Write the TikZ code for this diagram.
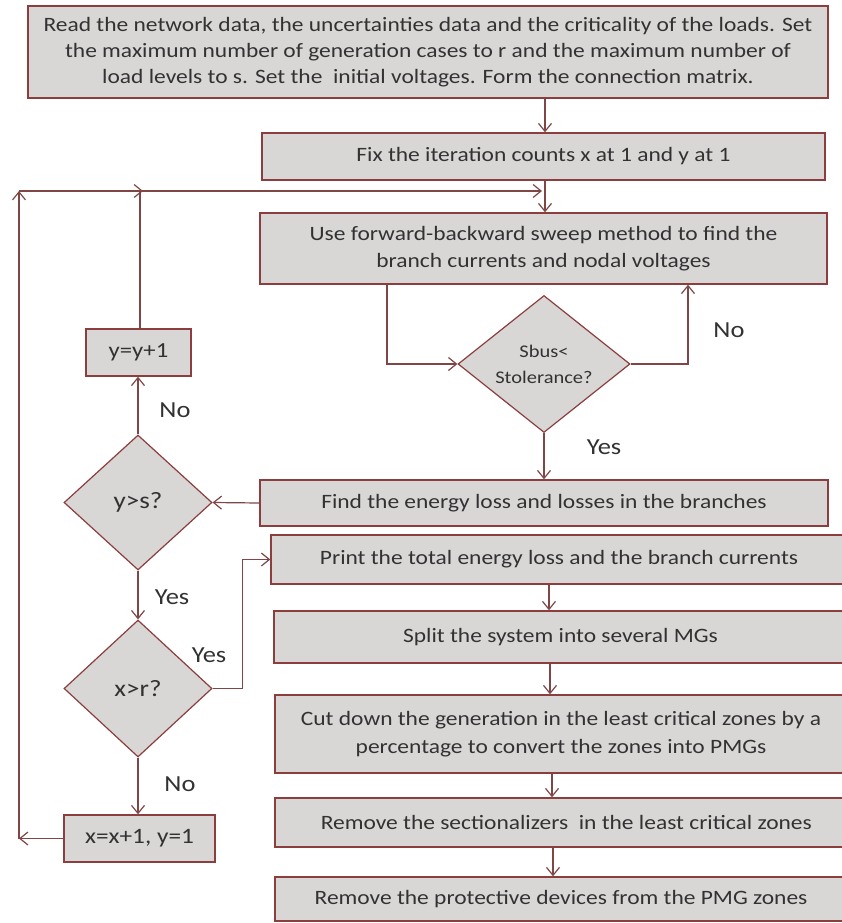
\documentclass[tikz,border=0pt]{standalone}
\usepackage{fontspec}
\setmainfont{Carlito}[FakeStretch=1.15]
\usetikzlibrary{shapes.geometric,arrows.meta}
\definecolor{bordc}{RGB}{140,62,62}
\definecolor{linec}{RGB}{128,70,70}
\definecolor{fillc}{RGB}{217,214,214}
\definecolor{textc}{RGB}{50,50,50}
\tikzset{
  boxstyle/.style={draw=bordc, fill=fillc, line width=1.4pt, inner sep=0pt, align=center, text=textc, font=\fontsize{20.4}{26}\selectfont},
  decstyle/.style={diamond, draw=bordc, fill=fillc, line width=1.2pt, inner sep=0pt, aspect=1.1, align=center, text=textc, font=\fontsize{17.8}{26}\selectfont},
  conn/.style={draw=linec, line width=1.2pt},
  arr/.style={conn, -{Straight Barb[length=8pt,width=13pt,line width=1.2pt]}},
  lab/.style={text=textc, font=\fontsize{23}{26}\selectfont, inner sep=0pt}
}
\begin{document}
\begin{tikzpicture}[x=1pt,y=-1pt]
\useasboundingbox (0,0) rectangle (842,923);
\fill[white] (0,0) rectangle (842,923);
% boxes
\node[boxstyle, minimum width=800pt, minimum height=92pt, font=\fontsize{20.4}{26}\selectfont] (b1) at (428,52) {Read the network data, the uncertainties data and the criticality of the loads. Set\\ the maximum number of generation cases to r and the maximum number of\\ load levels to s. Set the\ \ initial voltages. Form the connection matrix.};
\node[boxstyle, minimum width=563pt, minimum height=47pt] (b2) at (543.5,156.5) {Fix the iteration counts x at 1 and y at 1};
\node[boxstyle, minimum width=567pt, minimum height=71pt, font=\fontsize{20.4}{27}\selectfont] (b3) at (543.5,248.5) {Use forward-backward sweep method to find the\\ branch currents and nodal voltages};
\node[decstyle, minimum width=172pt, minimum height=137pt] (d1) at (544,364) {Sbus<\\ Stolerance?};
\node[boxstyle, minimum width=568pt, minimum height=46pt] (b4) at (544,503) {Find the energy loss and losses in the branches};
\node[boxstyle, minimum width=576pt, minimum height=49pt] (b5) at (559,559.5) {Print the total energy loss and the branch currents};
\node[boxstyle, minimum width=573pt, minimum height=52pt] (b6) at (560.5,637) {Split the system into several MGs};
\node[boxstyle, minimum width=572pt, minimum height=78pt, font=\fontsize{20.4}{28}\selectfont] (b7) at (561,734) {Cut down the generation in the least critical zones by a\\ percentage to convert the zones into PMGs};
\node[boxstyle, minimum width=572pt, minimum height=49pt] (b8) at (561,822.5) {\ \ Remove the sectionalizers\ \ in the least critical zones};
\node[boxstyle, minimum width=572pt, minimum height=44pt] (b9) at (561,899) {Remove the protective devices from the PMG zones};
\node[boxstyle, minimum width=105pt, minimum height=47pt, font=\fontsize{21.5}{24}\selectfont] (yy) at (138.5,352.5) {y=y+1};
\node[decstyle, minimum width=148pt, minimum height=135pt, font=\fontsize{23.5}{26}\selectfont] (d2) at (138,502.5) {y>s?};
\node[decstyle, minimum width=148pt, minimum height=137pt, font=\fontsize{23.5}{26}\selectfont] (d3) at (138,688.5) {x>r?};
\node[boxstyle, minimum width=151pt, minimum height=47pt, font=\fontsize{22}{24}\selectfont] (xx) at (139.5,838.5) {x=x+1, y=1};
% coordinates
\coordinate (loopL) at (19,191);
\coordinate (loopR) at (542,191);
\coordinate (loopM) at (140,191);
\coordinate (leftB) at (19,838.5);
% connectors
\draw[arr] (b1.south -| 545,0) -- (b2.north -| 545,0);
\draw[arr] (b2.south -| 545,0) -- (b3.north -| 545,0);
\draw[arr] (b3.south -| 387,0) |- (d1.west);
\draw[arr] (d1.east) -| (b3.south -| 688,0);
\draw[arr] (d1.south) -- (b4.north -| d1.south);
\draw[arr] (b4.west) -- (d2.east);
\draw[arr] (d2.north) -- (yy.south -| d2.north);
\draw[conn] (yy.north -| 140,0) -- (loopM);
\draw[arr] (loopM) -- ++(3,0);
\draw[arr] (d2.south) -- (d3.north);
\draw[arr] (d3.east) -- ++(30,0) |- (b5.west);
\draw[arr] (d3.south) -- (xx.north -| d3.south);
\draw[arr] (xx.west) -- (leftB);
\draw[arr] (leftB) -- (loopL);
\draw[arr] (loopL) -- (loopR);
\draw[arr] (b5.south -| 549,0) -- (b6.north -| 549,0);
\draw[arr] (b6.south -| 550,0) -- (b7.north -| 550,0);
\draw[arr] (b7.south -| 552,0) -- (b8.north -| 552,0);
\draw[arr] (b8.south -| 553,0) -- (b9.north -| 553,0);
% labels
\node[lab] (l1) at (729,330) {No};
\node[lab] (l2) at (604,447) {Yes};
\node[lab] (l3) at (175,410) {No};
\node[lab] (l4) at (172,597) {Yes};
\node[lab] (l5) at (209,655) {Yes};
\node[lab] (l6) at (180,784) {No};
\end{tikzpicture}
\end{document}
